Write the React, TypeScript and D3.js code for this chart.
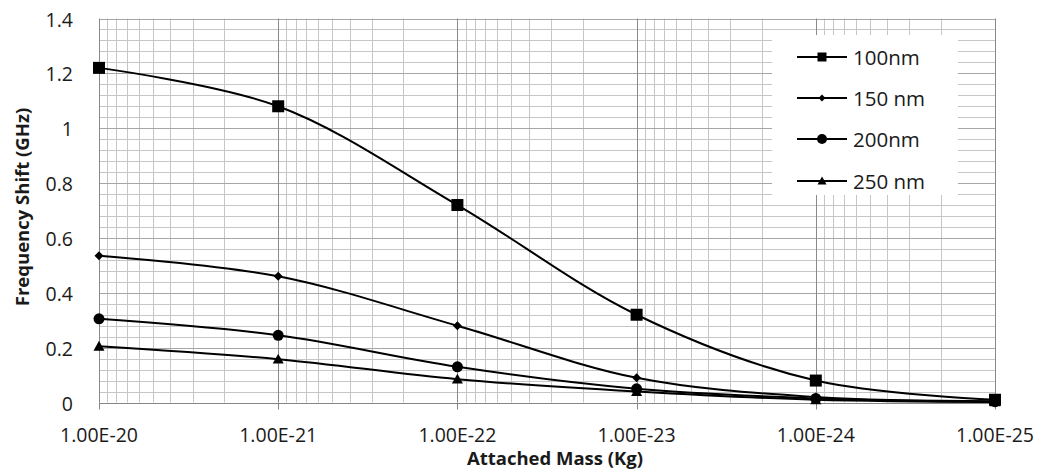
import React, { useEffect, useRef } from "react";
import * as d3 from "d3";

const masses = [1e-20, 1e-21, 1e-22, 1e-23, 1e-24, 1e-25];
const tickLabels = ["1.00E-20", "1.00E-21", "1.00E-22", "1.00E-23", "1.00E-24", "1.00E-25"];
const seriesNames = ["100nm", "150 nm", "200nm", "250 nm"];
const shift100 = [1.22, 1.08, 0.72, 0.32, 0.08, 0.01];
const shift150 = [0.535, 0.46, 0.28, 0.09, 0.02, 0.005];
const shift200 = [0.305, 0.245, 0.13, 0.05, 0.015, 0.003];
const shift250 = [0.205, 0.158, 0.085, 0.04, 0.01, 0.002];
const yTicks = [0, 0.2, 0.4, 0.6, 0.8, 1, 1.2, 1.4];
const markerKinds = ["square", "diamond", "circle", "triangle"];

const App = () => {
  const ref = useRef<SVGSVGElement>(null);

  useEffect(() => {
    const W = 1041, H = 471;
    const svg = d3.select(ref.current).attr("width", W).attr("height", H);
    svg.selectAll("*").remove();
    const font = "'Open Sans', sans-serif";

    const left = 99, right = 995, top = 18.5, bottom = 402.5;
    const x = d3.scaleLog().domain([1e-20, 1e-25]).range([left, right]);
    const y = d3.scaleLinear().domain([0, 1.4]).range([bottom, top]);

    svg.append("rect").attr("width", W).attr("height", H).attr("fill", "white");

    const grid = svg.append("g");
    // minor horizontal
    for (let i = 0; i <= 35; i++) {
      const v = i * 0.04;
      if (i % 5 === 0) continue;
      grid.append("line").attr("x1", left).attr("x2", right)
        .attr("y1", Math.round(y(v)) + 0.5).attr("y2", Math.round(y(v)) + 0.5)
        .attr("stroke", "#c6c6c6").attr("stroke-width", 1);
    }
    // minor vertical
    for (let e = -21; e >= -25; e--) {
      for (let m = 2; m <= 9; m++) {
        const v = m * Math.pow(10, e);
        const px = Math.round(x(v)) + 0.5;
        grid.append("line").attr("x1", px).attr("x2", px).attr("y1", top).attr("y2", bottom)
          .attr("stroke", "#c6c6c6").attr("stroke-width", 1);
      }
    }
    // major horizontal
    yTicks.forEach((v) => {
      if (v === 0) return;
      const py = Math.round(y(v)) + 0.5;
      grid.append("line").attr("x1", left).attr("x2", right).attr("y1", py).attr("y2", py)
        .attr("stroke", "#a6a6a6").attr("stroke-width", 1);
    });
    // major vertical
    masses.forEach((v) => {
      const px = Math.round(x(v)) + 0.5;
      grid.append("line").attr("x1", px).attr("x2", px).attr("y1", top).attr("y2", bottom)
        .attr("stroke", "#8a8a8a").attr("stroke-width", 1);
    });

    // x axis line + ticks
    svg.append("line").attr("x1", left).attr("x2", right)
      .attr("y1", Math.round(bottom) + 0.5).attr("y2", Math.round(bottom) + 0.5)
      .attr("stroke", "#868686").attr("stroke-width", 1);
    masses.forEach((v, i) => {
      const px = Math.round(x(v)) + 0.5;
      svg.append("line").attr("x1", px).attr("x2", px).attr("y1", bottom).attr("y2", bottom + 7)
        .attr("stroke", "#868686");
      svg.append("text").attr("x", x(v)).attr("y", 442).attr("text-anchor", "middle")
        .attr("font-family", font).attr("font-size", 19.5).attr("fill", "#1a1a1a")
        .text(tickLabels[i]);
    });
    yTicks.forEach((v) => {
      svg.append("text").attr("x", 73).attr("y", y(v) + 8).attr("text-anchor", "end")
        .attr("font-family", font).attr("font-size", 19.5).attr("fill", "#1a1a1a")
        .text(String(v));
    });

    svg.append("text").attr("x", 555).attr("y", 465).attr("text-anchor", "middle")
      .attr("font-family", font).attr("font-weight", "bold").attr("font-size", 18.5)
      .attr("fill", "#1a1a1a").text("Attached Mass (Kg)");
    svg.append("text").attr("transform", "translate(29,207) rotate(-90)").attr("text-anchor", "middle")
      .attr("font-family", font).attr("font-weight", "bold").attr("font-size", 18.5)
      .attr("fill", "#1a1a1a").text("Frequency Shift (GHz)");

    const allSeries = [shift100, shift150, shift200, shift250];

    const drawMarker = (g: any, kind: string, cx: number, cy: number, s: number) => {
      if (kind === "square") {
        g.append("rect").attr("x", cx - s / 2).attr("y", cy - s / 2).attr("width", s).attr("height", s).attr("fill", "black");
      } else if (kind === "diamond") {
        const r = s / 2;
        g.append("path").attr("d", `M${cx},${cy - r}L${cx + r},${cy}L${cx},${cy + r}L${cx - r},${cy}Z`).attr("fill", "black");
      } else if (kind === "circle") {
        g.append("circle").attr("cx", cx).attr("cy", cy).attr("r", s / 2).attr("fill", "black");
      } else {
        const r = s / 2;
        g.append("path").attr("d", `M${cx},${cy - r}L${cx + r},${cy + r * 0.8}L${cx - r},${cy + r * 0.8}Z`).attr("fill", "black");
      }
    };

    const line = d3.line<number>()
      .x((d, i) => x(masses[i]))
      .y((d) => y(d))
      .curve(d3.curveCatmullRom.alpha(0.5));

    const markerSize = [12, 9, 11, 11];
    allSeries.forEach((vals) => {
      svg.append("path").datum(vals).attr("d", line).attr("fill", "none")
        .attr("stroke", "black").attr("stroke-width", 2);
    });
    allSeries.forEach((vals, si) => {
      const g = svg.append("g");
      vals.forEach((v, i) => drawMarker(g, markerKinds[si], x(masses[i]), y(v), markerSize[si]));
    });

    // legend
    svg.append("rect").attr("x", 772).attr("y", 35).attr("width", 186).attr("height", 160).attr("fill", "white");
    const legendRows = [57, 98, 139, 181];
    const legendMarker = [9, 7, 10, 9];
    seriesNames.forEach((name, i) => {
      const ly = legendRows[i];
      svg.append("line").attr("x1", 797).attr("x2", 847).attr("y1", ly).attr("y2", ly)
        .attr("stroke", "black").attr("stroke-width", 2);
      drawMarker(svg, markerKinds[i], 822, ly, legendMarker[i]);
      svg.append("text").attr("x", 853).attr("y", ly + 7.5)
        .attr("font-family", font).attr("font-size", 20.5).attr("fill", "#1a1a1a").text(name);
    });
  }, []);

  return <svg ref={ref} style={{ position: "absolute", left: 0, top: 0 }} />;
};

export default App;
